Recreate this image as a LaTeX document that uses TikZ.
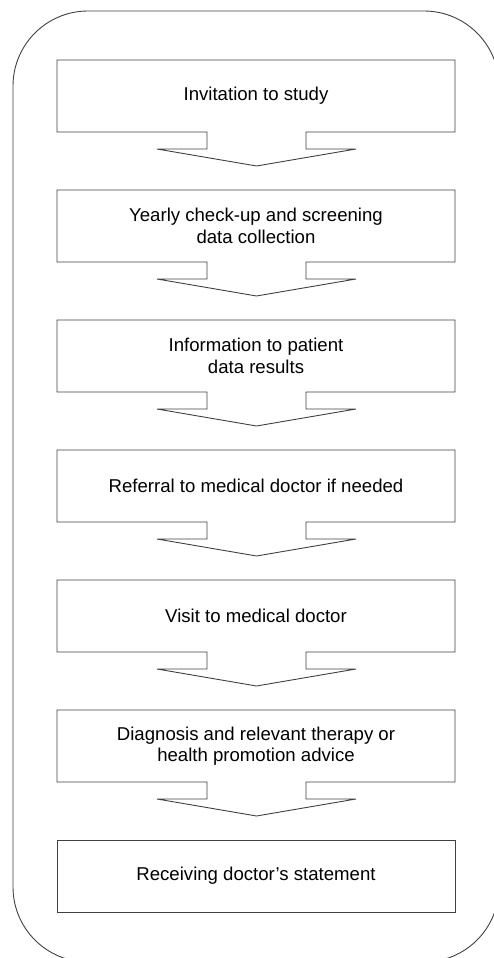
\documentclass[tikz,border=0pt]{standalone}
\usepackage{fontspec}
\setmainfont{Liberation Sans}
\tikzset{
	caja/.style={draw=black!75, line width=0.9pt, line join=miter},
	texto/.style={align=center, font=\fontsize{18.6}{21.5}\selectfont, inner sep=0pt}
}
\begin{document}
\begin{tikzpicture}[x=1pt,y=-1pt]
	\useasboundingbox (0,0) rectangle (494,958);
	% Marco exterior con esquinas redondeadas (cortado a la derecha y abajo)
	\begin{scope}
		\clip (0,0) rectangle (494,958);
		\draw[caja, rounded corners=75pt] (13,11) rectangle (499,962);
	\end{scope}
	
	% Primer paso
	\begin{scope}[yshift=0pt]
		\draw[caja] (207,132) -- (57,132) -- (57,60) -- (455,60) -- (455,132) -- (306,132) -- (306,149) -- (356,149) -- (256.5,166) -- (157,149) -- (207,149) -- cycle;
		\node[texto] (invite) at (256,96) {Invitation to study};
	\end{scope}
	
	% Segundo paso
	\begin{scope}[yshift=-130pt]
		\draw[caja] (207,132) -- (57,132) -- (57,60) -- (455,60) -- (455,132) -- (306,132) -- (306,149) -- (356,149) -- (256.5,166) -- (157,149) -- (207,149) -- cycle;
		\node[texto] (checkup) at (256,96) {Yearly check-up and screening\\data collection};
	\end{scope}
	
	% Tercer paso
	\begin{scope}[yshift=-260pt]
		\draw[caja] (207,132) -- (57,132) -- (57,60) -- (455,60) -- (455,132) -- (306,132) -- (306,149) -- (356,149) -- (256.5,166) -- (157,149) -- (207,149) -- cycle;
		\node[texto] (info) at (256,96) {Information to patient\\data results};
	\end{scope}
	
	% Cuarto paso
	\begin{scope}[yshift=-390pt]
		\draw[caja] (207,132) -- (57,132) -- (57,60) -- (455,60) -- (455,132) -- (306,132) -- (306,149) -- (356,149) -- (256.5,166) -- (157,149) -- (207,149) -- cycle;
		\node[texto] (referral) at (256,96) {Referral to medical doctor if needed};
	\end{scope}
	
	% Quinto paso
	\begin{scope}[yshift=-520pt]
		\draw[caja] (207,132) -- (57,132) -- (57,60) -- (455,60) -- (455,132) -- (306,132) -- (306,149) -- (356,149) -- (256.5,166) -- (157,149) -- (207,149) -- cycle;
		\node[texto] (visit) at (256,96) {Visit to medical doctor};
	\end{scope}
	
	% Sexto paso
	\begin{scope}[yshift=-650pt]
		\draw[caja] (207,132) -- (57,132) -- (57,60) -- (455,60) -- (455,132) -- (306,132) -- (306,149) -- (356,149) -- (256.5,166) -- (157,149) -- (207,149) -- cycle;
		\node[texto] (diagnosis) at (256,96) {Diagnosis and relevant therapy or\\health promotion advice};
	\end{scope}
	
	% Ultimo paso (sin flecha)
	\begin{scope}[yshift=-780pt]
		\draw[caja] (57,60) rectangle (455,132);
		\node[texto] (statement) at (256,96) {Receiving doctor's statement};
	\end{scope}
\end{tikzpicture}
\end{document}
